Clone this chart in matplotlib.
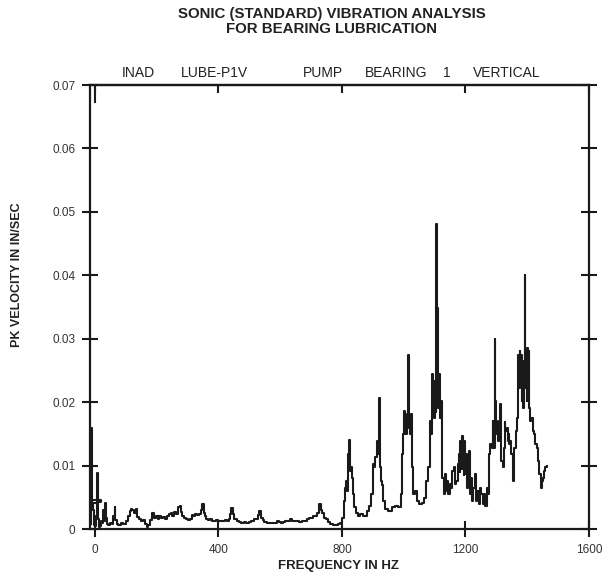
import matplotlib
matplotlib.use('Agg')
import matplotlib.pyplot as plt
import matplotlib.transforms as mtransforms

plt.rcParams['font.family'] = ['Liberation Sans', 'DejaVu Sans']

# ---------------- data ----------------
title_lines = ["SONIC (STANDARD) VIBRATION ANALYSIS", "FOR BEARING LUBRICATION"]
x_label = "FREQUENCY IN HZ"
y_label = "PK VELOCITY IN IN/SEC"
x_ticks = [0, 400, 800, 1200, 1600]
x_tick_labels = ["0", "400", "800", "1200", "1600"]
y_ticks = [0, 0.01, 0.02, 0.03, 0.04, 0.05, 0.06, 0.07]
y_tick_labels = ["0", "0.01", "0.02", "0.03", "0.04", "0.05", "0.06", "0.07"]
header_words = ["INAD", "LUBE-P1V", "PUMP", "BEARING", "1", "VERTICAL"]
header_pos_hz = [141, 386, 738, 975, 1140, 1335]

# spectrum start (near 0 Hz, includes the small loop)
freq_start = [-12, -11, -10, -9, -8, 18, 20, -6, -4, -2, 2, 6, 8, 10, 12, 14, 18, 22]
vel_start = [0.0008, 0.0160, 0.0155, 0.0040, 0.0046, 0.0046, 0.0042, 0.0041, 0.0030,
             0.0006, 0.0004, 0.0020, 0.0088, 0.0030, 0.0015, 0.0003, 0.0005, 0.0012]

# low band 25 - 800 Hz
freq_low = [25, 29, 31, 33, 36, 40, 46, 52, 58, 62, 65, 68, 72, 80, 88, 96, 104, 110, 114,
            118, 124, 130, 135, 140, 146, 152, 158, 164, 170, 174, 180, 188, 194, 200, 206,
            212, 218, 224, 230, 236, 242, 248, 254, 260, 266, 272, 276, 280, 286, 292, 298,
            304, 310, 316, 322, 328, 334, 340, 346, 350, 354, 358, 364, 370, 376, 382, 388,
            394, 400, 406, 412, 418, 424, 430, 436, 440, 444, 448, 452, 458, 464, 470, 478,
            486, 494, 502, 510, 518, 524, 530, 535, 540, 546, 552, 560, 568, 576, 584, 592,
            598, 604, 612, 620, 628, 636, 642, 650, 658, 666, 674, 682, 690, 698, 704, 710,
            716, 722, 729, 733, 740, 746, 752, 758, 766, 774, 782, 790, 796]
vel_low = [0.0010, 0.0030, 0.0013, 0.0041, 0.0018, 0.0008, 0.0007, 0.0009, 0.0008, 0.0020,
           0.0035, 0.0014, 0.0008, 0.0007, 0.0009, 0.0008, 0.0012, 0.0020, 0.0028, 0.0032,
           0.0030, 0.0025, 0.0031, 0.0019, 0.0016, 0.0013, 0.0014, 0.0008, 0.0003, 0.0006,
           0.0014, 0.0025, 0.0018, 0.0020, 0.0016, 0.0020, 0.0017, 0.0019, 0.0016, 0.0020,
           0.0024, 0.0026, 0.0021, 0.0027, 0.0024, 0.0034, 0.0036, 0.0027, 0.0020, 0.0018,
           0.0015, 0.0014, 0.0016, 0.0022, 0.0021, 0.0023, 0.0022, 0.0024, 0.0030, 0.0039,
           0.0026, 0.0020, 0.0016, 0.0014, 0.0015, 0.0013, 0.0012, 0.0014, 0.0013, 0.0012,
           0.0013, 0.0012, 0.0014, 0.0013, 0.0016, 0.0024, 0.0033, 0.0024, 0.0016, 0.0015,
           0.0012, 0.0011, 0.0010, 0.0011, 0.0010, 0.0011, 0.0012, 0.0015, 0.0016, 0.0022,
           0.0028, 0.0018, 0.0014, 0.0011, 0.0010, 0.0010, 0.0009, 0.0010, 0.0012, 0.0011,
           0.0010, 0.0011, 0.0012, 0.0013, 0.0015, 0.0013, 0.0012, 0.0012, 0.0011, 0.0012,
           0.0013, 0.0015, 0.0017, 0.0018, 0.0020, 0.0021, 0.0026, 0.0039, 0.0030, 0.0025,
           0.0018, 0.0015, 0.0011, 0.0008, 0.0007, 0.0007, 0.0008, 0.0009]

# high band 800 - 1465 Hz
freq_high = [799, 804, 809, 812, 815, 818, 822, 824, 826, 828, 831, 835, 839, 842, 848, 856,
             864, 874, 885, 893, 898, 901, 906, 910, 914, 918, 921, 923, 925, 929, 932, 936,
             945, 955, 966, 977, 988, 993, 997, 1001, 1004, 1007, 1012, 1015, 1018, 1022,
             1026, 1029, 1033, 1040, 1047, 1055, 1064, 1070, 1077, 1082, 1085, 1088, 1090,
             1092, 1094, 1096, 1098, 1100, 1102, 1104, 1105, 1107, 1108, 1110, 1112, 1113,
             1114, 1116, 1118, 1119, 1122, 1124, 1127, 1132, 1135, 1138, 1142, 1147, 1151,
             1155, 1160, 1164, 1168, 1173, 1177, 1180, 1182, 1183, 1185, 1187, 1189, 1190,
             1192, 1193, 1195, 1196, 1198, 1200, 1203, 1206, 1209, 1213, 1216, 1219, 1223,
             1228, 1232, 1236, 1240, 1245, 1249, 1254, 1258, 1262, 1266, 1271, 1275, 1279,
             1283, 1286, 1289, 1292, 1296, 1298, 1300, 1303, 1306, 1310, 1312, 1315, 1318,
             1322, 1325, 1328, 1331, 1335, 1338, 1341, 1344, 1347, 1351, 1354, 1357, 1360,
             1364, 1367, 1370, 1372, 1374, 1377, 1379, 1381, 1383, 1385, 1387, 1390, 1393,
             1395, 1397, 1399, 1401, 1404, 1406, 1408, 1411, 1415, 1420, 1424, 1428, 1433,
             1437, 1441, 1446, 1449, 1452, 1457, 1461, 1465]
vel_high = [0.0009, 0.0018, 0.0044, 0.0065, 0.0076, 0.0060, 0.0118, 0.0141, 0.0118, 0.0092,
            0.0097, 0.0081, 0.0055, 0.0034, 0.0026, 0.0021, 0.0023, 0.0021, 0.0028, 0.0036,
            0.0055, 0.0102, 0.0097, 0.0113, 0.0139, 0.0118, 0.0207, 0.0149, 0.0097, 0.0076,
            0.0070, 0.0044, 0.0031, 0.0028, 0.0034, 0.0036, 0.0035, 0.0055, 0.0118, 0.0149,
            0.0186, 0.0149, 0.0181, 0.0275, 0.0160, 0.0149, 0.0181, 0.0097, 0.0055, 0.0060,
            0.0044, 0.0039, 0.0041, 0.0049, 0.0076, 0.0097, 0.0155, 0.0170, 0.0150, 0.0202,
            0.0244, 0.0181, 0.0233, 0.0175, 0.0223, 0.0185, 0.0240, 0.0481, 0.0360, 0.0349,
            0.0239, 0.0190, 0.0223, 0.0244, 0.0185, 0.0175, 0.0202, 0.0107, 0.0081, 0.0055,
            0.0086, 0.0060, 0.0076, 0.0055, 0.0071, 0.0065, 0.0092, 0.0097, 0.0071, 0.0076,
            0.0102, 0.0118, 0.0090, 0.0139, 0.0100, 0.0128, 0.0095, 0.0147, 0.0100, 0.0113,
            0.0085, 0.0139, 0.0095, 0.0086, 0.0118, 0.0065, 0.0097, 0.0123, 0.0055, 0.0081,
            0.0044, 0.0065, 0.0086, 0.0044, 0.0060, 0.0039, 0.0065, 0.0055, 0.0039, 0.0055,
            0.0036, 0.0065, 0.0055, 0.0118, 0.0134, 0.0128, 0.0170, 0.0128, 0.0299, 0.0202,
            0.0170, 0.0149, 0.0139, 0.0170, 0.0197, 0.0139, 0.0107, 0.0097, 0.0128, 0.0168,
            0.0155, 0.0160, 0.0139, 0.0149, 0.0134, 0.0139, 0.0118, 0.0076, 0.0118, 0.0128,
            0.0155, 0.0175, 0.0244, 0.0275, 0.0223, 0.0281, 0.0244, 0.0275, 0.0202, 0.0254,
            0.0191, 0.0265, 0.0400, 0.0223, 0.0270, 0.0202, 0.0286, 0.0202, 0.0281, 0.0191,
            0.0170, 0.0175, 0.0155, 0.0149, 0.0134, 0.0128, 0.0107, 0.0086, 0.0065, 0.0076,
            0.0081, 0.0092, 0.0097, 0.0100]

freq = freq_start + freq_low + freq_high
vel = vel_start + vel_low + vel_high

# ---------------- figure ----------------
W, H = 609, 577
fig = plt.figure(figsize=(W / 100, H / 100), dpi=100)
ax = fig.add_axes([90 / W, 48 / H, 499 / W, 444 / H])

ink = '#1a1a1a'
ax.plot(freq, vel, color=ink, lw=1.5, drawstyle='steps-mid')

ax.set_xlim(-16, 1600)
ax.set_ylim(0, 0.07)
ax.set_xticks(x_ticks)
ax.set_xticklabels(x_tick_labels)
ax.set_yticks(y_ticks)
ax.set_yticklabels(y_tick_labels)

for sp in ax.spines.values():
    sp.set_linewidth(1.6)
    sp.set_color(ink)

ax.tick_params(axis='both', direction='inout', length=11, width=1.5, labelsize=8.5,
               pad=5, color=ink, labelcolor='#333333')
ax.tick_params(axis='y', right=True)

sec = ax.secondary_xaxis('top')
sec.set_xticks(x_ticks)
sec.tick_params(direction='in', length=6, width=1.5, labeltop=False, color=ink)
sec.spines['top'].set_linewidth(1.6)
sec.spines['top'].set_color(ink)

ax.axvline(x_ticks[0], ymin=1 - 17 / 444, ymax=1, color=ink, lw=1.5)

trans = mtransforms.blended_transform_factory(ax.transData, ax.transAxes)
for word, pos in zip(header_words, header_pos_hz):
    ax.text(pos, 1 + 12 / 444, word, transform=trans, ha='center', va='center',
            fontsize=10, color='#222222')

fig.text(332 / W, 1 - 14 / H, title_lines[0], ha='center', va='center',
         fontsize=10.8, fontweight='bold', color='#222222')
fig.text(332 / W, 1 - 29 / H, title_lines[1], ha='center', va='center',
         fontsize=10.8, fontweight='bold', color='#222222')
fig.text(338 / W, 1 - 566 / H, x_label, ha='center', va='center',
         fontsize=9.5, fontweight='bold', color='#222222')
fig.text(17 / W, 1 - 275 / H, y_label, ha='center', va='center', rotation=90,
         fontsize=9, fontweight='bold', color='#222222')

fig.savefig('out.png', dpi=100)
